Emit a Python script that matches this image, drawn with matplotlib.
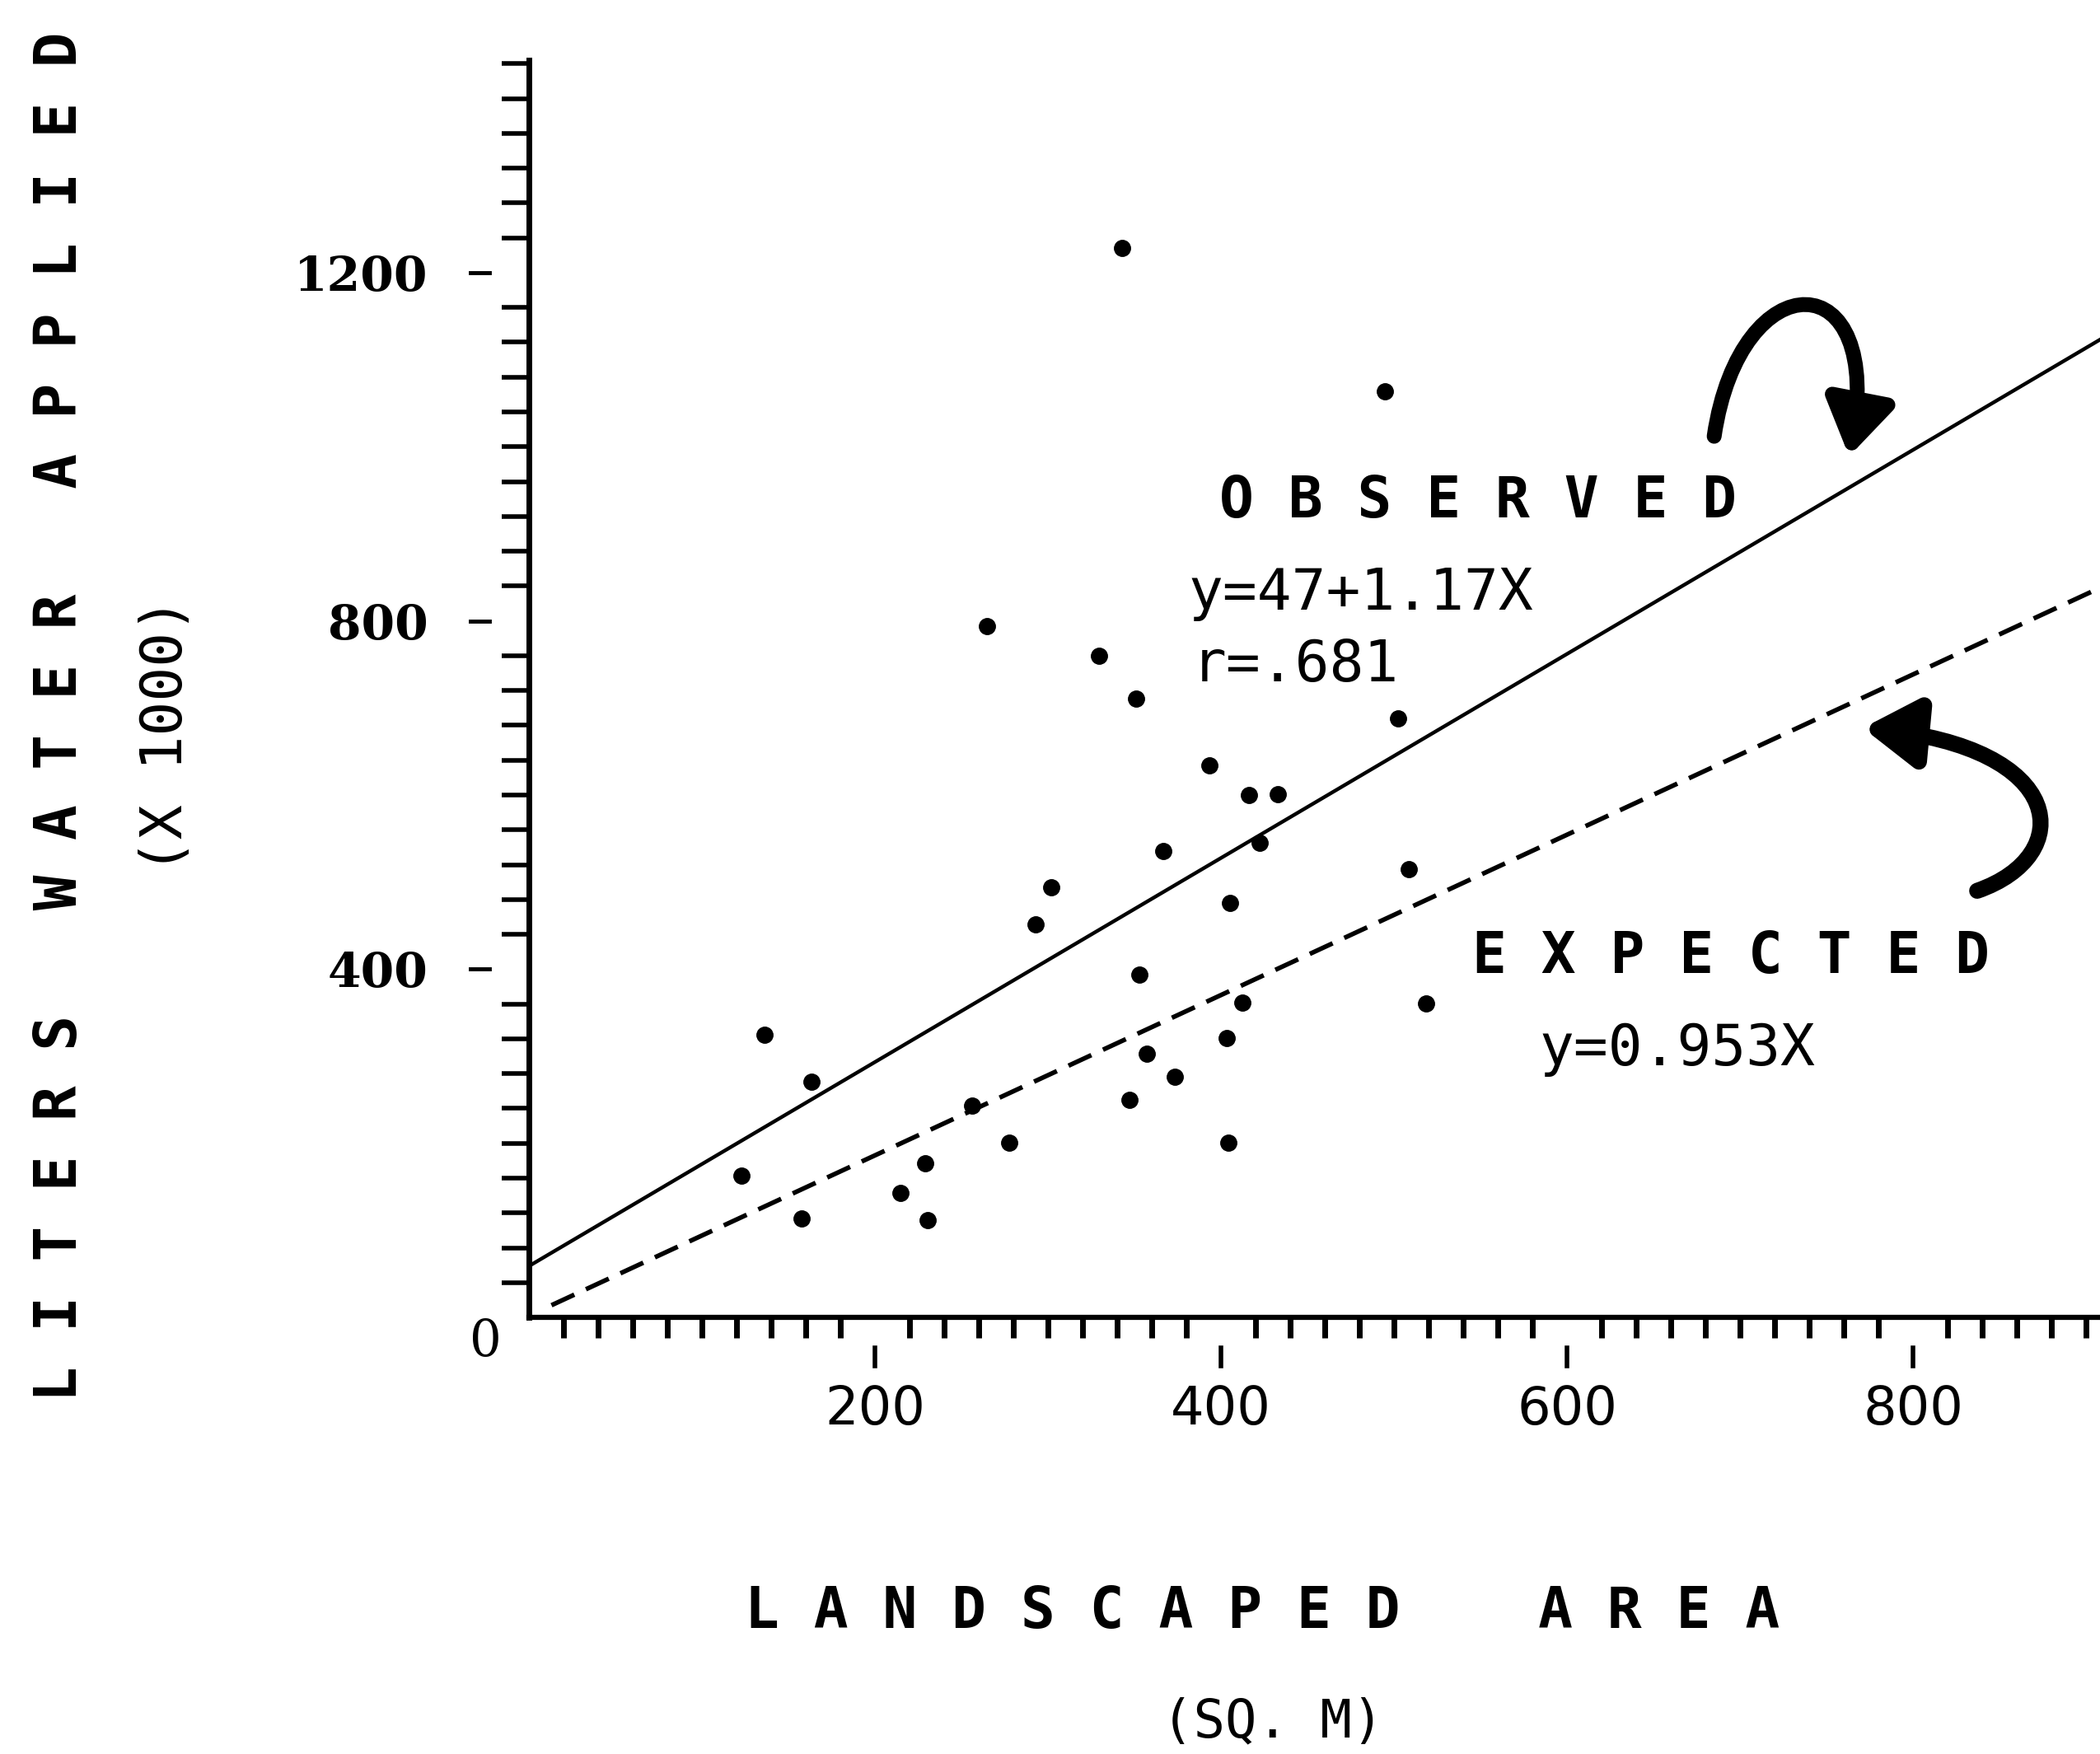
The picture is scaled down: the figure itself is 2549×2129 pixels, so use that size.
import numpy as np
import matplotlib.pyplot as plt
from matplotlib.path import Path
from matplotlib.patches import FancyArrowPatch
from matplotlib.ticker import FixedLocator
from matplotlib.transforms import blended_transform_factory

# landscaped area (sq. m) vs liters of water applied (x 1000)
area = [342.6, 494.6, 264.7, 329.4, 350.9, 502.5, 393.1, 416.0, 432.9, 366.7,
        422.3, 508.3, 301.7, 405.0, 292.6, 353.0, 412.3, 518.6, 403.2, 357.2,
        136.3, 163.3, 256.2, 277.6, 122.9, 229.2, 214.9, 157.8, 230.5, 373.3,
        347.1, 404.1]
water = [1228, 1064, 793.5, 760, 711, 688, 634, 600, 601, 535.6,
         544.7, 514.7, 494, 476, 451.7, 393.7, 362, 361, 321.3, 303.2,
         324.6, 270.4, 243.5, 201, 163, 177.3, 142.6, 113.3, 111.7, 276,
         249.8, 200.3]

# fitted lines as drawn
obs_line_x = [0, 908]
obs_line_y = [59, 1123]
exp_line_x = [13, 908]
exp_line_y = [14, 838]

x_major = [200, 400, 600, 800]
y_major = [400, 800, 1200]

mono = 'DejaVu Sans Mono'

fig = plt.figure(figsize=(25.49, 21.29), dpi=100)
ax = fig.add_axes([0.2519, 0.2489, 0.7481, 0.7168])
ax.set_xlim(0, 908)
ax.set_ylim(0, 1444)

ax.plot(obs_line_x, obs_line_y, '-', color='k', lw=3.2)
ax.plot(exp_line_x, exp_line_y, color='k', lw=4, linestyle=(0, (5.5, 2.8)))
ax.plot(area, water, 'o', color='k', ms=14)

# axes frame
ax.spines['top'].set_visible(False)
ax.spines['right'].set_visible(False)
ax.spines['left'].set_linewidth(5)
ax.spines['bottom'].set_linewidth(4.5)

# ticks
ax.set_xticks(x_major)
ax.set_xticklabels([str(v) for v in x_major])
ax.set_yticks(y_major)
ax.set_yticklabels([str(v) for v in y_major])
ax.xaxis.set_minor_locator(FixedLocator(np.arange(20, 909, 20)))
ax.yaxis.set_minor_locator(FixedLocator(np.arange(40, 1441, 40)))
ax.tick_params(axis='x', which='major', length=0, pad=58, labelsize=46)
ax.tick_params(axis='y', which='major', length=0, pad=88, labelsize=42)
ax.tick_params(axis='x', which='minor', length=18, width=5, direction='out')
ax.tick_params(axis='y', which='minor', length=24, width=4, direction='out')
for lbl in ax.get_xticklabels():
    lbl.set_fontfamily('DejaVu Sans')
for lbl in ax.get_yticklabels():
    lbl.set_fontfamily('DejaVu Serif')
    lbl.set_fontweight('bold')

# major tick dashes sit apart from the axis
tx = blended_transform_factory(ax.transData, ax.transAxes)
for v in x_major:
    ax.plot([v, v], [-0.0242, -0.0387], transform=tx, color='k', lw=4, clip_on=False)
ty = blended_transform_factory(ax.transAxes, ax.transData)
for v in y_major:
    ax.plot([-0.0372, -0.0252], [v, v], transform=ty, color='k', lw=3.5, clip_on=False)
ax.text(-25, -27, '0', ha='center', va='center', fontsize=44,
        family='DejaVu Serif', clip_on=False)

# annotations
ax.text(399, 919, 'O B S E R V E D', family=mono, weight='bold', fontsize=50)
ax.text(381, 813, 'y=47+1.17X', family=mono, fontsize=50)
ax.text(383, 731, 'r=.681', family=mono, fontsize=50)
ax.text(545, 396, 'E X P E C T E D', family=mono, weight='bold', fontsize=50)
ax.text(584, 290, 'y=0.953X', family=mono, fontsize=50)

# hand drawn arrows
head = '-|>,head_length=0.7,head_width=0.45'
obs_path = Path([(685, 1012), (700, 1215), (785, 1215), (763, 989)],
                [Path.MOVETO, Path.CURVE4, Path.CURVE4, Path.CURVE4])
ax.add_patch(FancyArrowPatch(path=obs_path, arrowstyle=head,
                             mutation_scale=55, lw=13, color='k',
                             transform=ax.transData, clip_on=False))
exp_path = Path([(837, 490), (895, 530), (890, 655), (771, 677)],
                [Path.MOVETO, Path.CURVE4, Path.CURVE4, Path.CURVE4])
ax.add_patch(FancyArrowPatch(path=exp_path, arrowstyle=head,
                             mutation_scale=55, lw=14, color='k',
                             transform=ax.transData, clip_on=False))

# axis titles
fig.text(0.0290, 0.5914, 'L I T E R S   W A T E R   A P P L I E D', rotation=90,
         ha='center', va='center', family=mono, weight='bold', fontsize=51)
fig.text(0.0789, 0.5806, '(X 1000)', rotation=90, ha='center', va='center',
         family=mono, fontsize=50)
fig.text(0.601, 0.0808, 'L A N D S C A P E D    A R E A', ha='center', va='center',
         family=mono, weight='bold', fontsize=50)
fig.text(0.6061, 0.0183, '(SQ. M)', ha='center', va='center', family=mono, fontsize=46)

fig.savefig('out.png', dpi=100, facecolor='white')
